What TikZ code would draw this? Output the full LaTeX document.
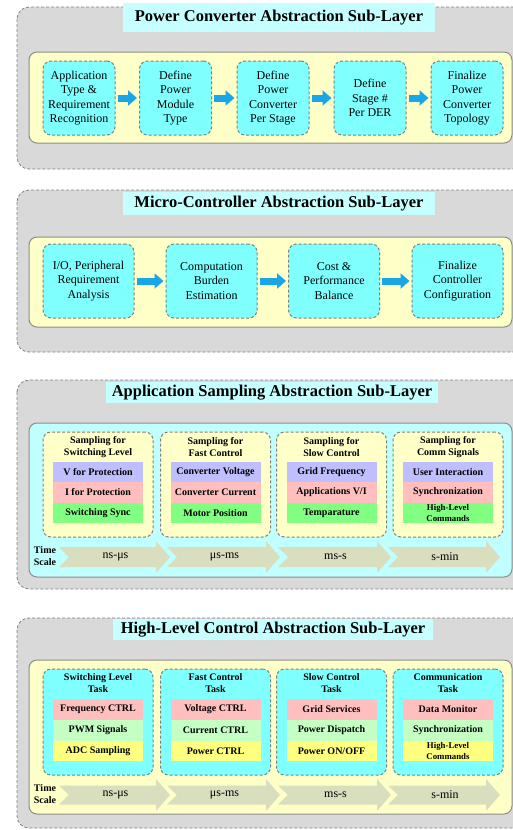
\documentclass[tikz,border=0pt]{standalone}
\usepackage{fontspec}
\setmainfont{Liberation Serif}
\usetikzlibrary{arrows.meta}
\definecolor{laygray}{HTML}{D9D9D9}
\definecolor{edgegray}{HTML}{808080}
\definecolor{titlecyan}{HTML}{C6FFFF}
\definecolor{boxcyan}{HTML}{80FFFF}
\definecolor{panelcyan}{HTML}{C0FFFF}
\definecolor{panelyellow}{HTML}{FFFFC8}
\definecolor{rowviolet}{HTML}{BFBFFF}
\definecolor{rowpink}{HTML}{FFBFBF}
\definecolor{rowgreen}{HTML}{80FF80}
\definecolor{rowmint}{HTML}{C4FFC4}
\definecolor{rowyellow}{HTML}{FFFF80}
\definecolor{scalekhaki}{HTML}{D9DFBE}
\definecolor{flowblue}{HTML}{18A6E6}
\begin{document}
\begin{tikzpicture}[x=1pt,y=-1pt,
  layer/.style={fill=laygray, draw=edgegray, dash pattern=on 3pt off 2pt, line width=0.8pt, rounded corners=12pt},
  panel/.style={draw=edgegray!90, line width=1pt, rounded corners=8pt},
  layertitle/.style={fill=titlecyan, font=\bfseries\fontsize{16.5}{18}\selectfont, inner sep=0pt},
  stepbox/.style={fill=boxcyan, draw=edgegray, dash pattern=on 3pt off 2pt, line width=1pt, rounded corners=8pt, align=center, font=\fontsize{12}{14.3}\selectfont, inner sep=0pt},
  groupbox/.style={draw=edgegray, dash pattern=on 3pt off 2pt, line width=1pt, rounded corners=8pt, minimum width=110pt, minimum height=105pt, inner sep=0pt},
  grouptitle/.style={align=center, font=\bfseries\fontsize{10}{11.5}\selectfont, inner sep=0pt},
  rowcell/.style={minimum width=90pt, minimum height=20.7pt, inner sep=0pt, align=center},
  flow/.style={draw=flowblue, line width=7pt, -{Triangle[length=9pt,width=15pt]}, shorten >=2pt, shorten <=2pt},
  scalelabel/.style={font=\fontsize{12}{14}\selectfont, inner sep=0pt},
  timelbl/.style={align=center, font=\bfseries\fontsize{10}{12}\selectfont, inner sep=0pt}
]
\useasboundingbox (0,0) rectangle (513,830);

% ---------- Layer 1 ----------
\draw[layer] (17,7) rectangle (530,169);
\draw[panel, fill=panelyellow] (29,52) rectangle (512,143);
\node[layertitle, minimum width=312pt, minimum height=29pt] (t1) at (279,17.5) {Power Converter Abstraction Sub-Layer};
\node[stepbox, minimum width=72pt, minimum height=74pt] (p1) at (79,98) {Application\\Type \&\\Requirement\\Recognition};
\node[stepbox, minimum width=72pt, minimum height=74pt] (p2) at (175.5,98) {Define\\Power\\Module\\Type};
\node[stepbox, minimum width=72pt, minimum height=74pt] (p3) at (273,98) {Define\\Power\\Converter\\Per Stage};
\node[stepbox, minimum width=72pt, minimum height=74pt] (p4) at (370,98) {Define\\Stage \#\\Per DER};
\node[stepbox, minimum width=72pt, minimum height=74pt] (p5) at (467,98) {Finalize\\Power\\Converter\\Topology};
\foreach \a/\b in {p1/p2,p2/p3,p3/p4,p4/p5} \draw[flow] (\a) -- (\b);

% ---------- Layer 2 ----------
\draw[layer] (17,190) rectangle (530,352);
\draw[panel, fill=panelyellow] (29,237) rectangle (512,327);
\node[layertitle, minimum width=312pt, minimum height=23pt] (t2) at (279,203.5) {Micro-Controller Abstraction Sub-Layer};
\node[stepbox, minimum width=91pt, minimum height=74pt] (m1) at (88.5,281) {I/O, Peripheral\\Requirement\\Analysis};
\node[stepbox, minimum width=91pt, minimum height=74pt] (m2) at (211.5,281) {Computation\\Burden\\Estimation};
\node[stepbox, minimum width=91pt, minimum height=74pt] (m3) at (334,281) {Cost \&\\Performance\\Balance};
\node[stepbox, minimum width=91pt, minimum height=74pt] (m4) at (457.5,281) {Finalize\\Controller\\Configuration};
\foreach \a/\b in {m1/m2,m2/m3,m3/m4} \draw[flow] (\a) -- (\b);

% ---------- Layer 3 ----------
\draw[layer] (17,380) rectangle (530,589);
\draw[panel, fill=panelcyan] (29,423) rectangle (512,577);
\node[layertitle, minimum width=332pt, minimum height=21pt] (t3) at (272,392.5) {Application Sampling Abstraction Sub-Layer};
\foreach \L/\T/\lab [count=\k] in {59/170/ns-μs, 167/280/μs-ms, 278/391/ms-s, 388/500/s-min}{
  \fill[scalekhaki] (\L,547) -- (\T-14,547) -- (\T-14,541) -- (\T,557) -- (\T-14,573) -- (\T-14,567) -- (\L,567) -- (\L+10,557) -- cycle;
  \node[scalelabel] (sa\k) at ({(\L+\T)/2+1},557) {\lab};
}
\node[timelbl] (tl3) at (45,556) {Time\\Scale};
\foreach \n/\cx/\ttl/\ra/\rb/\rc/\fs/\bl in {
  1/98/{Sampling for\\Switching Level}/{V for Protection}/{I for Protection}/{Switching Sync}/10/11,
  2/215.5/{Sampling for\\Fast Control}/{Converter Voltage}/{Converter Current}/{Motor Position}/10/11,
  3/331.5/{Sampling for\\Slow Control}/{Grid Frequency}/{Applications V/I}/{Temparature}/10/11,
  4/448/{Sampling for\\Comm Signals}/{User Interaction}/{Synchronization}/{High-Level\\Commands}/8.8/10.5}{
  \node[groupbox, fill=panelyellow] (sg\n) at (\cx,484.5) {};
  \node[grouptitle] (sg\n t) at (\cx,447) {\ttl};
  \node[rowcell, fill=rowviolet, font=\bfseries\fontsize{10}{11}\selectfont] (sg\n a) at (\cx,472) {\ra};
  \node[rowcell, fill=rowpink, font=\bfseries\fontsize{10}{11}\selectfont] (sg\n b) at (\cx,492.5) {\rb};
  \node[rowcell, fill=rowgreen, font=\bfseries\fontsize{\fs}{\bl}\selectfont] (sg\n c) at (\cx,513) {\rc};
}

% ---------- Layer 4 ----------
\draw[layer] (17,618) rectangle (530,828);
\draw[panel, fill=panelyellow] (29,660) rectangle (512,814);
\node[layertitle, minimum width=320pt, minimum height=21pt] (t4) at (273,629.5) {High-Level Control Abstraction Sub-Layer};
\foreach \L/\T/\lab [count=\k] in {59/170/ns-μs, 167/280/μs-ms, 278/391/ms-s, 388/500/s-min}{
  \fill[scalekhaki] (\L,785.5) -- (\T-14,785.5) -- (\T-14,779) -- (\T,795) -- (\T-14,811) -- (\T-14,804.5) -- (\L,804.5) -- (\L+10,795) -- cycle;
  \node[scalelabel] (hs\k) at ({(\L+\T)/2+1},795) {\lab};
}
\node[timelbl] (tl4) at (45,794) {Time\\Scale};
\foreach \n/\cx/\ttl/\ra/\rb/\rc/\fs/\bl in {
  1/98/{Switching Level\\Task}/{Frequency CTRL}/{PWM Signals}/{ADC Sampling}/10/11,
  2/215.5/{Fast Control\\Task}/{Voltage CTRL}/{Current CTRL}/{Power CTRL}/10/11,
  3/331.5/{Slow Control\\Task}/{Grid Services}/{Power Dispatch}/{Power ON/OFF}/10/11,
  4/448/{Communication\\Task}/{Data Monitor}/{Synchronization}/{High-Level\\Commands}/8.8/10.5}{
  \node[groupbox, fill=boxcyan, minimum height=106pt] (hg\n) at (\cx,722) {};
  \node[grouptitle] (hg\n t) at (\cx,683) {\ttl};
  \node[rowcell, fill=rowpink, font=\bfseries\fontsize{10}{11}\selectfont] (hg\n a) at (\cx,709.5) {\ra};
  \node[rowcell, fill=rowmint, font=\bfseries\fontsize{10}{11}\selectfont] (hg\n b) at (\cx,730.5) {\rb};
  \node[rowcell, fill=rowyellow, font=\bfseries\fontsize{\fs}{\bl}\selectfont] (hg\n c) at (\cx,751) {\rc};
}
\end{tikzpicture}
\end{document}
